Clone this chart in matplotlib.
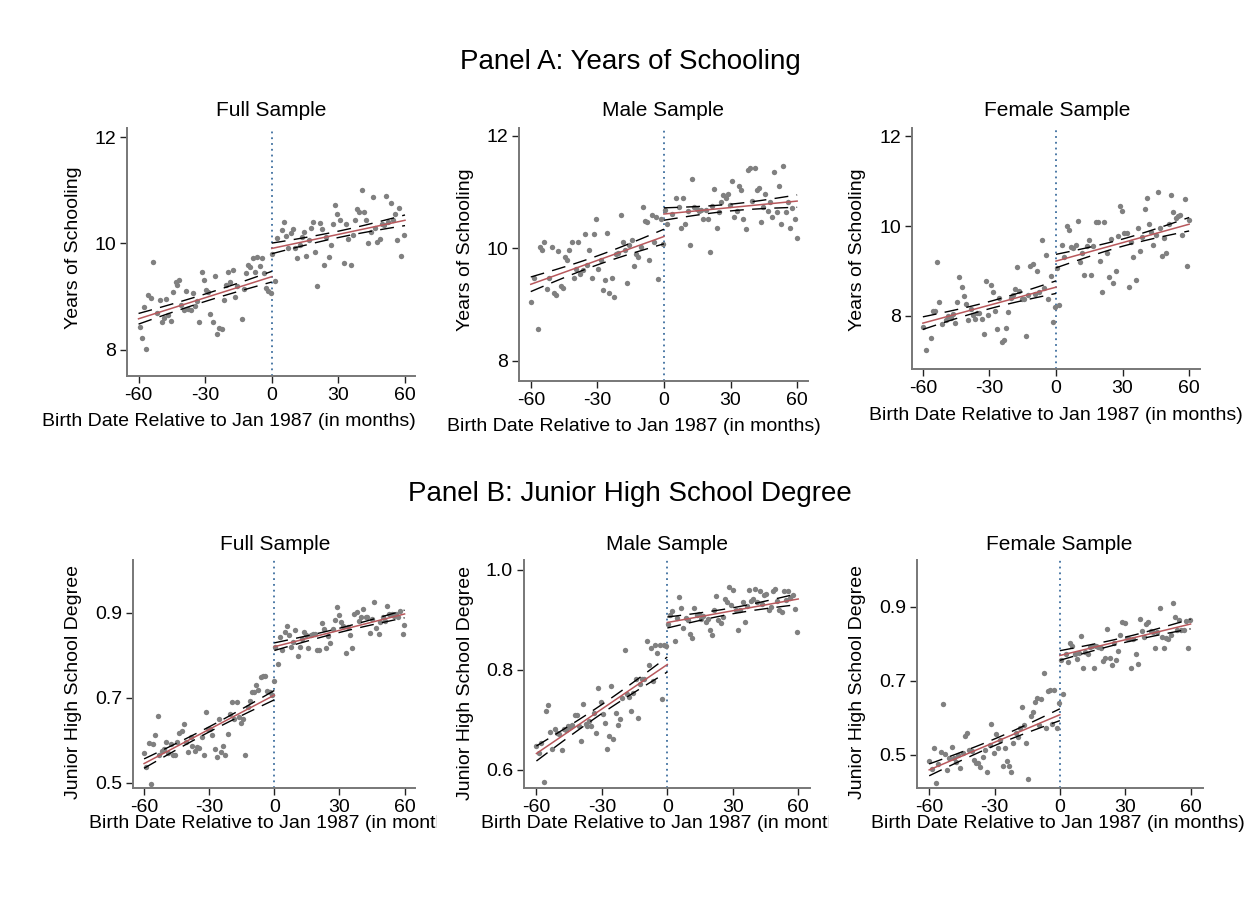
import numpy as np
import matplotlib.pyplot as plt
from matplotlib.transforms import Bbox

plt.rcParams['font.family'] = ['Liberation Sans', 'DejaVu Sans']
plt.rcParams['axes.unicode_minus'] = False

# ---- data: month bins relative to Jan 1987 and cell means ----
# Panel A, years of schooling
a_full_x = [-59.5, -58.6, -56.5, -57.5, -55.6, -54.6, -53.5, -51.9, -50.5, -49.6,
            -48.6, -47.5, -46.6, -45.6, -44.6, -43.3, -42.6, -41.6, -40.7, -39.6,
            -38.6, -37.7, -36.6, -35.6, -34.7, -33.6, -32.6, -31.5, -30.6, -29.6,
            -28.6, -27.7, -26.6, -25.6, -24.7, -23.6, -22.6, -21.5, -20.6, -19.6,
            -18.7, -17.5, -16.6, -15.5, -13.6, -12.6, -11.5, -10.6, -9.6, -8.5,
            -7.5, -6.6, -5.5, -4.5, -3.4, -2.5, -1.5, -0.4,
            0.3, 1.5, 2.5, 4.5, 5.5, 6.4, 7.5, 8.5, 9.6, 10.5,
            11.5, 12.6, 13.5, 14.5, 15.5, 16.6, 17.5, 18.5, 19.6, 20.5,
            21.5, 22.4, 23.5, 24.5, 25.6, 26.5, 27.5, 28.4, 29.4, 30.5,
            32.4, 33.5, 34.5, 35.6, 36.5, 37.5, 38.4, 39.5, 40.5, 41.6,
            42.5, 43.5, 44.5, 45.4, 46.5, 47.5, 48.6, 49.5, 50.5, 51.4,
            52.5, 53.5, 54.6, 55.5, 56.5, 57.5, 58.4, 59.5]
a_full_y = [8.44, 8.23, 8.02, 8.80, 9.04, 8.97, 9.66, 8.69, 8.93, 8.52,
            8.60, 8.95, 8.65, 8.55, 9.08, 9.28, 9.22, 9.31, 8.85, 8.75,
            9.10, 8.77, 8.75, 9.07, 8.82, 8.91, 8.53, 9.46, 9.31, 9.13,
            9.09, 8.67, 8.52, 9.39, 8.30, 8.41, 8.40, 8.94, 9.22, 9.46,
            9.28, 9.50, 8.99, 9.20, 8.58, 9.14, 9.44, 9.60, 9.55, 9.73,
            9.47, 9.75, 9.58, 9.73, 9.45, 9.16, 9.10, 9.07,
            9.81, 9.30, 10.11, 10.26, 10.40, 10.14, 9.91, 10.19, 10.27, 9.91,
            9.73, 9.97, 10.12, 10.22, 9.76, 10.06, 10.30, 10.40, 9.84, 9.20,
            10.39, 10.27, 9.60, 10.12, 9.74, 9.98, 10.36, 10.72, 10.56, 10.45,
            9.64, 10.36, 10.09, 9.59, 10.16, 10.44, 10.65, 10.59, 11.01, 10.59,
            10.45, 10.00, 10.21, 10.87, 10.30, 10.02, 10.09, 10.37, 10.34, 10.89,
            10.40, 10.77, 10.44, 10.55, 10.06, 10.67, 9.77, 10.16]

a_male_x = [-59.9, -58.4, -56.9, -55.9, -55.1, -53.9, -52.9, -51.7, -50.6, -49.5,
            -48.6, -47.6, -46.5, -45.6, -44.6, -43.8, -42.6, -41.6, -40.5, -39.6,
            -38.6, -37.7, -36.6, -35.6, -34.5, -33.6, -32.6, -31.5, -30.6, -29.6,
            -28.5, -27.6, -26.6, -25.7, -24.6, -23.6, -22.5, -21.6, -20.6, -19.5,
            -18.6, -17.6, -16.5, -15.6, -14.6, -13.5, -12.6, -11.6, -10.5, -9.6,
            -8.6, -7.5, -6.6, -5.6, -4.5, -3.6, -2.6, -1.5, -0.6,
            0.5, 1.5, 3.5, 5.6, 6.8, 7.5, 8.6, 9.6, 10.7, 11.6,
            12.6, 13.7, 14.7, 15.8, 16.7, 17.7, 18.8, 19.7, 20.6, 21.6,
            22.7, 23.7, 24.8, 25.7, 26.7, 27.8, 28.7, 29.7, 30.6, 31.7,
            32.7, 33.6, 34.7, 35.7, 36.8, 37.7, 38.7, 39.8, 40.8, 41.7,
            42.8, 43.7, 44.7, 45.6, 46.7, 47.7, 48.8, 49.7, 50.8, 51.8,
            52.7, 53.8, 54.8, 55.9, 56.8, 57.8, 58.9, 59.8]
a_male_y = [9.04, 9.47, 8.57, 10.02, 9.97, 10.11, 9.27, 9.47, 10.03, 9.20,
            9.17, 9.96, 9.33, 9.29, 9.84, 9.80, 9.97, 10.11, 9.47, 9.64,
            10.11, 9.54, 9.62, 10.25, 9.70, 9.97, 9.47, 10.25, 10.52, 9.63,
            9.80, 9.26, 9.44, 10.28, 9.20, 9.47, 9.14, 9.90, 9.91, 10.59,
            10.12, 9.97, 9.38, 10.06, 10.15, 9.69, 9.90, 9.84, 10.03, 10.74,
            10.49, 10.46, 9.80, 10.59, 10.12, 10.56, 9.46, 10.52, 10.07,
            10.68, 10.44, 10.61, 10.90, 10.73, 10.36, 10.89, 10.43, 10.66, 10.06,
            11.24, 10.73, 10.70, 10.67, 10.69, 10.52, 10.69, 10.52, 9.93, 10.76,
            11.05, 10.37, 10.65, 10.83, 10.94, 10.90, 10.96, 10.77, 11.20, 10.55,
            10.67, 11.10, 11.04, 10.52, 10.34, 11.39, 11.42, 10.85, 11.42, 11.04,
            11.08, 10.47, 10.74, 10.96, 10.67, 10.82, 10.55, 11.35, 10.64, 11.10,
            10.44, 11.47, 10.64, 10.82, 10.36, 10.72, 10.52, 10.18]

a_female_x = [-59.8, -58.7, -56.5, -55.3, -54.5, -53.6, -52.6, -51.5, -49.7, -48.5,
              -47.4, -46.5, -45.5, -44.4, -43.5, -42.5, -41.6, -40.5, -39.5, -38.4,
              -37.5, -36.5, -35.4, -34.5, -33.5, -32.4, -31.5, -30.5, -29.4, -28.5,
              -27.5, -26.4, -25.5, -24.5, -23.6, -22.5, -21.5, -20.4, -19.5, -18.5,
              -17.6, -16.5, -15.5, -14.6, -13.5, -12.5, -11.6, -10.5, -9.5, -8.4,
              -7.5, -6.5, -5.4, -4.5, -3.5, -2.4, -1.5, -0.5,
              0.6, 1.5, 2.7, 3.8, 4.8, 5.7, 6.8, 7.8, 8.9, 9.8,
              10.8, 11.7, 12.8, 13.8, 14.9, 15.8, 16.8, 17.9, 18.8, 19.8,
              20.9, 21.8, 22.8, 23.9, 24.8, 25.8, 26.9, 27.8, 28.8, 29.9,
              30.8, 31.8, 32.9, 33.8, 34.8, 35.9, 36.8, 37.8, 38.9, 39.9,
              40.8, 41.9, 42.9, 43.8, 44.9, 45.8, 46.8, 47.9, 48.8, 49.8,
              50.9, 51.8, 52.9, 53.9, 55.0, 55.9, 56.9, 58.0, 58.9, 59.8]
a_female_y = [7.76, 7.24, 7.51, 8.12, 8.12, 9.21, 8.30, 7.81, 7.91, 7.99,
              7.95, 8.04, 7.84, 8.30, 8.86, 8.64, 8.45, 8.27, 7.90, 8.16,
              8.02, 7.93, 8.06, 8.06, 7.93, 7.60, 8.78, 8.02, 8.69, 8.53,
              8.10, 7.71, 8.39, 7.41, 7.47, 7.73, 8.08, 8.39, 8.47, 8.59,
              9.08, 8.56, 8.37, 8.37, 7.56, 8.47, 9.10, 9.16, 8.49, 9.00,
              8.54, 9.69, 8.63, 9.36, 8.38, 8.89, 7.87, 8.21,
              9.06, 8.24, 9.58, 9.30, 10.00, 9.91, 9.54, 9.50, 9.58, 10.11,
              9.21, 9.41, 8.90, 9.56, 9.69, 8.90, 9.56, 10.08, 10.08, 9.22,
              8.54, 10.08, 9.41, 8.86, 9.71, 8.73, 9.01, 9.78, 10.45, 10.34,
              9.84, 9.85, 8.65, 9.65, 9.30, 8.79, 9.96, 9.45, 9.76, 10.37,
              10.63, 10.04, 9.87, 9.58, 9.80, 10.76, 9.96, 9.33, 9.73, 9.39,
              10.04, 10.70, 10.32, 10.17, 10.22, 10.24, 9.81, 10.61, 9.12, 10.13]

# Panel B, junior high school degree
b_full_x = [-59.9, -59.1, -57.9, -56.8, -55.9, -54.8, -53.7, -52.9, -51.9, -50.8,
            -49.8, -48.8, -47.7, -46.8, -45.8, -44.8, -43.8, -42.7, -41.7, -40.7,
            -39.7, -38.6, -37.7, -36.6, -35.6, -34.6, -33.5, -32.6, -31.5, -30.6,
            -29.5, -28.5, -27.5, -26.5, -25.5, -24.5, -23.5, -22.5, -21.5, -20.4,
            -19.4, -18.4, -17.4, -16.4, -15.3, -14.4, -13.4, -12.3, -11.3, -10.3,
            -9.3, -8.3, -7.3, -6.3, -5.2, -4.2, -3.2, -2.2, -1.2, -0.3,
            0.3, 1.8, 2.6, 3.7, 4.8, 5.7, 6.8, 7.7, 8.8, 9.7, 10.8,
            11.7, 12.8, 13.8, 14.8, 15.7, 16.8, 17.8, 18.8, 19.8, 20.8,
            21.8, 22.9, 23.8, 24.9, 25.8, 26.9, 27.8, 28.9, 29.8, 30.9,
            31.8, 32.9, 33.8, 34.9, 35.8, 36.9, 38.0, 38.9, 40.0, 40.9,
            42.0, 42.9, 44.0, 44.9, 46.0, 46.9, 48.0, 48.9, 50.0, 51.1,
            52.0, 52.9, 54.0, 54.9, 56.0, 56.9, 58.0, 59.1, 59.8]
b_full_y = [0.571, 0.538, 0.593, 0.497, 0.592, 0.612, 0.657, 0.564, 0.575, 0.579,
            0.595, 0.569, 0.590, 0.565, 0.565, 0.596, 0.616, 0.622, 0.638, 0.596,
            0.573, 0.607, 0.586, 0.575, 0.585, 0.582, 0.608, 0.565, 0.667, 0.626,
            0.626, 0.613, 0.579, 0.561, 0.651, 0.573, 0.587, 0.565, 0.614, 0.662,
            0.689, 0.649, 0.691, 0.654, 0.641, 0.651, 0.564, 0.679, 0.692, 0.713,
            0.714, 0.731, 0.718, 0.749, 0.751, 0.752, 0.716, 0.714, 0.706, 0.739,
            0.820, 0.779, 0.842, 0.812, 0.854, 0.869, 0.847, 0.820, 0.832, 0.859, 0.799,
            0.820, 0.838, 0.855, 0.847, 0.817, 0.847, 0.850, 0.850, 0.812, 0.812,
            0.876, 0.861, 0.818, 0.844, 0.828, 0.862, 0.883, 0.913, 0.895, 0.879,
            0.869, 0.805, 0.867, 0.847, 0.816, 0.897, 0.901, 0.881, 0.891, 0.909,
            0.891, 0.891, 0.853, 0.885, 0.926, 0.865, 0.851, 0.877, 0.891, 0.881,
            0.916, 0.898, 0.898, 0.893, 0.897, 0.889, 0.904, 0.851, 0.871]

b_male_x = [-60.0, -59.0, -57.7, -56.7, -55.7, -54.7, -53.6, -52.7, -51.6, -50.5,
            -49.6, -48.5, -47.5, -46.6, -45.5, -44.6, -43.5, -42.4, -41.5, -40.4,
            -39.5, -38.6, -37.5, -36.6, -35.7, -34.8, -33.7, -32.6, -31.7, -30.6,
            -29.6, -28.6, -27.7, -26.6, -25.6, -24.7, -23.6, -22.7, -21.6, -20.7,
            -19.6, -18.5, -17.6, -16.5, -15.6, -14.5, -13.6, -12.6, -11.6, -10.6,
            -9.5, -8.6, -7.5, -6.6, -5.7, -4.6, -3.5, -2.6, -1.5, -0.5,
            0.2, 1.2, 2.3, 3.4, 4.4, 5.4, 6.4, 7.4, 8.4, 9.5, 10.6,
            11.5, 12.4, 13.5, 14.5, 15.5, 16.5, 17.5, 18.5, 19.4, 20.5,
            21.6, 22.5, 23.4, 24.5, 25.4, 26.5, 27.4, 28.3, 29.4, 30.3,
            31.4, 32.3, 33.4, 34.5, 35.4, 36.4, 37.4, 38.4, 39.4, 40.4,
            41.3, 42.4, 43.3, 44.4, 45.3, 46.4, 47.3, 48.4, 49.5, 50.4,
            51.3, 52.4, 53.3, 54.4, 55.4, 56.4, 57.4, 58.5, 59.4]
b_male_y = [0.649, 0.635, 0.655, 0.577, 0.718, 0.731, 0.677, 0.643, 0.683, 0.675,
            0.672, 0.640, 0.682, 0.680, 0.689, 0.687, 0.691, 0.710, 0.710, 0.688,
            0.658, 0.733, 0.692, 0.689, 0.699, 0.689, 0.715, 0.675, 0.765, 0.737,
            0.712, 0.695, 0.642, 0.669, 0.768, 0.663, 0.715, 0.690, 0.703, 0.745,
            0.840, 0.753, 0.747, 0.719, 0.755, 0.783, 0.705, 0.773, 0.783, 0.783,
            0.858, 0.811, 0.845, 0.778, 0.851, 0.835, 0.851, 0.743, 0.851, 0.849,
            0.893, 0.910, 0.918, 0.859, 0.905, 0.947, 0.925, 0.885, 0.905, 0.901, 0.872,
            0.865, 0.925, 0.910, 0.913, 0.902, 0.909, 0.897, 0.903, 0.880, 0.870,
            0.921, 0.949, 0.900, 0.895, 0.907, 0.943, 0.937, 0.967, 0.930, 0.961,
            0.921, 0.880, 0.920, 0.937, 0.897, 0.928, 0.961, 0.939, 0.942, 0.963,
            0.937, 0.959, 0.932, 0.950, 0.952, 0.920, 0.927, 0.958, 0.963, 0.939,
            0.920, 0.917, 0.959, 0.941, 0.959, 0.945, 0.950, 0.922, 0.877]

b_female_x = [-60.0, -58.9, -57.8, -56.9, -55.8, -54.8, -53.8, -52.8, -51.7, -50.8,
              -49.7, -48.6, -47.7, -46.6, -45.7, -44.6, -43.5, -42.6, -41.5, -40.5,
              -39.5, -38.5, -37.5, -36.5, -35.4, -34.3, -33.4, -32.3, -31.4, -30.3,
              -29.4, -28.3, -27.4, -26.3, -25.4, -24.3, -23.4, -22.5, -21.4, -20.3,
              -19.4, -18.5, -17.4, -16.5, -15.4, -14.5, -13.4, -12.5, -11.5, -10.5,
              -9.5, -8.5, -7.4, -6.5, -5.5, -4.5, -3.5, -2.6, -1.5, -0.6,
              0.4, 1.5, 2.6, 3.7, 4.6, 5.7, 6.8, 7.7, 8.8, 9.7, 10.8,
              11.7, 12.8, 13.7, 14.8, 15.7, 16.8, 17.7, 18.8, 19.7, 20.8,
              21.7, 22.8, 23.7, 24.8, 25.7, 26.8, 27.7, 28.6, 29.7, 30.8,
              31.7, 32.8, 33.7, 34.8, 35.7, 36.8, 37.7, 38.8, 39.7, 40.6,
              41.7, 42.6, 43.8, 44.8, 45.8, 46.8, 47.8, 48.8, 49.8, 50.8,
              51.8, 52.8, 53.8, 54.8, 55.8, 56.8, 57.8, 58.8, 59.8]
b_female_y = [0.483, 0.460, 0.517, 0.423, 0.475, 0.508, 0.637, 0.501, 0.459, 0.490,
              0.520, 0.492, 0.481, 0.499, 0.465, 0.504, 0.551, 0.559, 0.514, 0.511,
              0.487, 0.478, 0.477, 0.466, 0.493, 0.513, 0.452, 0.526, 0.582, 0.505,
              0.556, 0.519, 0.541, 0.469, 0.519, 0.483, 0.470, 0.454, 0.532, 0.559,
              0.549, 0.573, 0.630, 0.580, 0.531, 0.434, 0.605, 0.614, 0.643, 0.654,
              0.580, 0.650, 0.720, 0.571, 0.673, 0.675, 0.583, 0.675, 0.571, 0.641,
              0.755, 0.663, 0.771, 0.751, 0.801, 0.794, 0.771, 0.759, 0.774, 0.821, 0.735,
              0.777, 0.771, 0.790, 0.795, 0.735, 0.794, 0.790, 0.789, 0.753, 0.762,
              0.839, 0.762, 0.742, 0.801, 0.756, 0.781, 0.823, 0.858, 0.857, 0.816,
              0.813, 0.733, 0.813, 0.772, 0.745, 0.866, 0.834, 0.817, 0.853, 0.859,
              0.835, 0.831, 0.787, 0.832, 0.897, 0.819, 0.787, 0.814, 0.812, 0.823,
              0.911, 0.873, 0.837, 0.864, 0.837, 0.837, 0.861, 0.789, 0.864]

# linear fits on each side of the cutoff: [left start, left end, right start, right end]
a_full_fit = [8.585, 9.376, 9.907, 10.436]
a_male_fit = [9.36, 10.21, 10.61, 10.84]
a_female_fit = [7.84, 8.64, 9.22, 10.04]
b_full_fit = [0.545, 0.706, 0.820, 0.897]
b_male_fit = [0.633, 0.811, 0.895, 0.942]
b_female_fit = [0.459, 0.608, 0.768, 0.853]
# 95% CI half widths: [left at ends, left at centre, right at ends, right at centre]
a_full_ci = [0.10, 0.07, 0.10, 0.06]
a_male_ci = [0.13, 0.08, 0.11, 0.06]
a_female_ci = [0.14, 0.08, 0.15, 0.08]
b_full_ci = [0.011, 0.006, 0.009, 0.005]
b_male_ci = [0.015, 0.009, 0.011, 0.006]
b_female_ci = [0.016, 0.009, 0.013, 0.007]

xticks = [-60, -30, 0, 30, 60]
subtitles = ['Full Sample', 'Male Sample', 'Female Sample']

W, H = 1244, 911
fig = plt.figure(figsize=(W / 100, H / 100), dpi=100)
fig.patch.set_facecolor('white')


def box(l, t, r, b):
    return [l / W, 1 - b / H, (r - l) / W, (b - t) / H]


def panel(rect, x, y, fit, ci, xlim, ylim, yticks, ylabs):
    ax = fig.add_axes(box(*rect))
    x = np.asarray(x)
    y = np.asarray(y)
    ax.scatter(x, y, s=15, color='#808080', linewidths=0, zorder=2)
    for (x0, x1), (y0, y1), (he, hm) in [((-60, 0), fit[:2], ci[:2]),
                                         ((0, 60), fit[2:], ci[2:])]:
        xs = np.linspace(x0, x1, 60)
        line = y0 + (y1 - y0) * (xs - x0) / (x1 - x0)
        t = (xs - (x0 + x1) / 2) / ((x1 - x0) / 2)
        hw = np.sqrt(hm ** 2 + (he ** 2 - hm ** 2) * t ** 2)
        ax.plot(xs, line + hw, color='black', lw=1.0, ls=(0, (10, 6)), zorder=3)
        ax.plot(xs, line - hw, color='black', lw=1.0, ls=(0, (10, 6)), zorder=3)
        ax.plot(xs, line, color='#b8585c', lw=1.1, zorder=4)
    ax.axvline(0, color='#3f6f9f', lw=1.3, ls=(0, (1, 2.2)), zorder=1)
    ax.set_xlim(*xlim)
    ax.set_ylim(*ylim)
    ax.set_xticks(xticks)
    ax.set_yticks(yticks)
    ax.set_yticklabels(ylabs)
    for s in ['top', 'right']:
        ax.spines[s].set_visible(False)
    for s in ['left', 'bottom']:
        ax.spines[s].set_color('#777777')
        ax.spines[s].set_linewidth(1.4)
    ax.tick_params(length=5, width=1, color='#222222', labelsize=14, pad=3)
    return ax


panel((127, 128, 415, 376), a_full_x, a_full_y, a_full_fit, a_full_ci,
      (-65.2, 64.5), (7.51, 12.17), [8, 10, 12], ['8', '10', '12'])
panel((519, 128, 808, 381), a_male_x, a_male_y, a_male_fit, a_male_ci,
      (-65.3, 64.9), (7.64, 12.14), [8, 10, 12], ['8', '10', '12'])
panel((912, 128, 1200, 369), a_female_x, a_female_y, a_female_fit, a_female_ci,
      (-64.9, 64.9), (6.82, 12.18), [8, 10, 12], ['8', '10', '12'])
panel((133, 560, 415, 788), b_full_x, b_full_y, b_full_fit, b_full_ci,
      (-65.1, 64.8), (0.4875, 1.024), [0.5, 0.7, 0.9], ['0.5', '0.7', '0.9'])
panel((524, 560, 810, 788), b_male_x, b_male_y, b_male_fit, b_male_ci,
      (-65.7, 65.4), (0.564, 1.02), [0.6, 0.8, 1.0], ['0.6', '0.8', '1.0'])
panel((917, 560, 1203, 788), b_female_x, b_female_y, b_female_fit, b_female_ci,
      (-65.6, 65.7), (0.41, 1.026), [0.5, 0.7, 0.9], ['0.5', '0.7', '0.9'])


def ftext(px, py, s, **kw):
    return fig.text(px / W, 1 - py / H, s, **kw)


ftext(630, 62, 'Panel A: Years of Schooling', fontsize=20, ha='center', va='center')
ftext(630, 494, 'Panel B: Junior High School Degree', fontsize=20, ha='center', va='center')

for cx, s in zip([271, 663, 1057], subtitles):
    ftext(cx, 111, s, fontsize=15, ha='center', va='center')
for cx, s in zip([275, 667, 1059], subtitles):
    ftext(cx, 545, s, fontsize=15, ha='center', va='center')

for cx, cy in [(73, 248), (466, 250), (858, 250)]:
    ftext(cx, cy, 'Years of Schooling', fontsize=14, rotation=90, ha='center', va='center')
for cx, cy in [(73, 682), (466, 683), (858, 682)]:
    ftext(cx, cy, 'Junior High School Degree', fontsize=14, rotation=90, ha='center', va='center')

# x titles; the two left bottom ones run past their cell and get cut there
xlab = 'Birth Date Relative to Jan 1987 (in months)'
for lx, ly, clip in [(42, 422, None), (447, 426, None), (869, 415, None),
                     (89, 823, 437), (481, 823, 829), (871, 823, None)]:
    t = ftext(lx, ly, xlab, fontsize=14, ha='left', va='center')
    if clip is not None:
        t.set_clip_box(Bbox.from_extents(0, 0, clip, H))
        t.set_clip_on(True)

fig.savefig('out.png', dpi=100)
